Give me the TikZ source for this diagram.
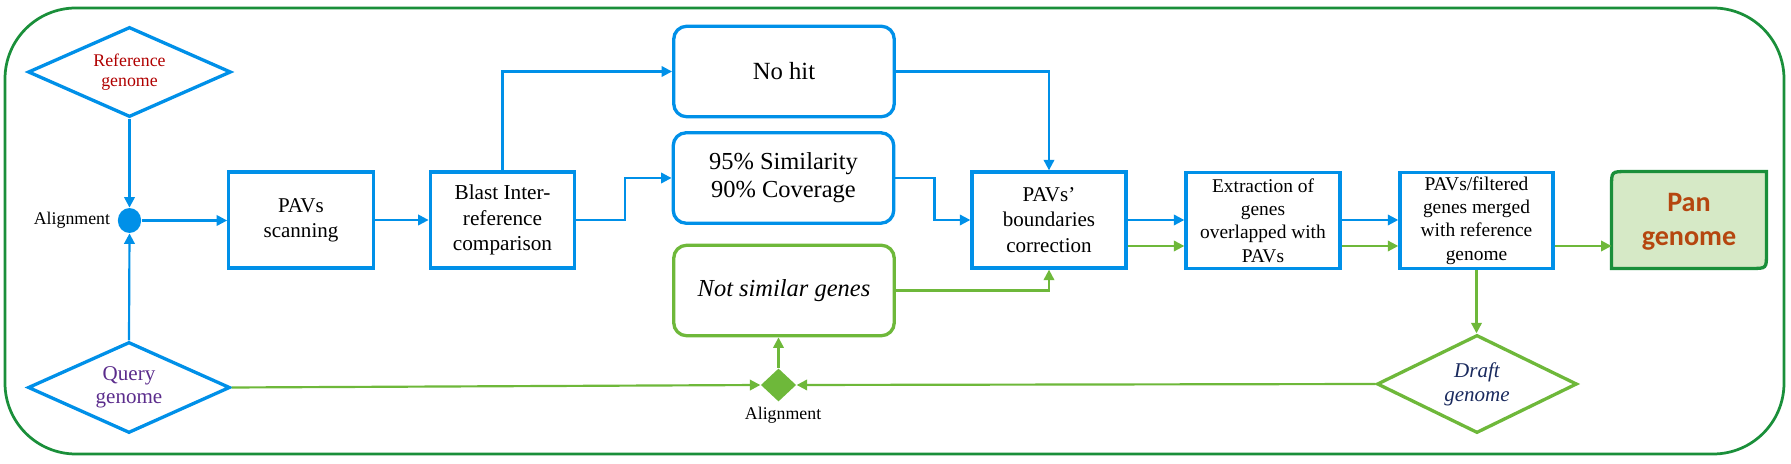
\documentclass[tikz,border=0pt]{standalone}
\usepackage{fontspec}
\setmainfont{Liberation Serif}
\newfontfamily\calib{Carlito}
\usetikzlibrary{arrows.meta,shapes.geometric}
\definecolor{blueC}{RGB}{0,144,232}
\definecolor{lgreen}{RGB}{110,184,58}
\definecolor{dgreen}{RGB}{26,143,58}
\definecolor{refred}{RGB}{176,0,0}
\definecolor{qpurple}{RGB}{91,44,140}
\definecolor{navyC}{RGB}{26,42,94}
\definecolor{panfill}{RGB}{214,233,198}
\definecolor{pantext}{RGB}{181,70,15}
\begin{document}
\begin{tikzpicture}[x=0.4375pt,y=-0.4375pt,
  conn/.style={line width=0.95pt,-{Triangle[length=4.6pt,width=4.6pt]}},
  bl/.style={conn,draw=blueC},
  gr/.style={conn,draw=lgreen},
  sqbox/.style={draw=blueC,line width=1.45pt,rectangle,inner sep=0pt,minimum width=63.2pt,minimum height=42pt,align=center},
  rbox/.style={line width=1.45pt,rectangle,rounded corners=5.7pt,inner sep=0pt,minimum width=96.5pt,minimum height=39.6pt,align=center},
  dia/.style={diamond,shape aspect=2.2,line width=1.45pt,inner sep=0pt,align=center},
  lbl/.style={font=\fontsize{7.8}{9}\selectfont,inner sep=0pt}]
\useasboundingbox (0,0) rectangle (1791,464);
\draw[dgreen,line width=1.2pt,rounded corners=31pt] (5,8) rectangle (1784,454);

\node[dia,draw=blueC,minimum width=88.8pt,minimum height=39.4pt,text=refred,font=\fontsize{7.8}{8.75}\selectfont] (refg) at (129.5,72) {Reference\\genome};
\node[dia,draw=blueC,minimum width=88.4pt,minimum height=39.8pt,text=qpurple,font=\fontsize{9.2}{10}\selectfont] (qry) at (129,387.5) {Query\\genome};
\node[ellipse,fill=blueC,inner sep=0pt,minimum width=10.2pt,minimum height=10.9pt] (dot) at (129.5,220.5) {};
\node[lbl,anchor=east] (dotl) at ([xshift=-3pt]dot.west) {Alignment};

\node[sqbox,font=\fontsize{9.2}{10.9}\selectfont] (scan) at (301,220) {PAVs\\scanning};
\node[sqbox,font=\fontsize{9.3}{11.2}\selectfont] (blast) at (502.5,220) {Blast Inter-\\reference\\comparison};
\node[rbox,draw=blueC,font=\fontsize{10.8}{12}\selectfont] (nohit) at (784,71.5) {No hit};
\node[rbox,draw=blueC,font=\fontsize{10.7}{12.25}\selectfont] (sim) at (783.5,178) {95\% Similarity\\90\% Coverage};
\node[rbox,draw=lgreen,font=\itshape\fontsize{10.7}{12}\selectfont] (notsim) at (784,290.5) {Not similar genes};
\node[sqbox,minimum width=67.4pt,font=\fontsize{9.2}{11.2}\selectfont] (pavb) at (1049,220) {PAVs’\\boundaries\\correction};
\node[sqbox,minimum width=67.4pt,font=\fontsize{8.5}{10.2}\selectfont] (extr) at (1263,220.5) {Extraction of\\genes\\overlapped with\\PAVs};
\node[sqbox,minimum width=67pt,font=\fontsize{8.5}{10.2}\selectfont] (merg) at (1476.5,220.5) {PAVs/filtered\\genes merged\\with reference\\genome};
\node[inner sep=0pt,minimum width=67.4pt,minimum height=42pt] (pan) at (1689,220) {};
\draw[dgreen,fill=panfill,line width=1.45pt] (pan.south west) -- ([yshift=-6.6pt]pan.north west) .. controls (pan.north west) .. ([xshift=6.6pt]pan.north west) -- (pan.north east) -- ([yshift=6.6pt]pan.south east) .. controls (pan.south east) .. ([xshift=-6.6pt]pan.south east) -- cycle;
\node[align=center,inner sep=0pt,text=pantext,font=\calib\bfseries\fontsize{12.3}{14.9}\selectfont] (pant) at (1689,222) {Pan\\genome};

\node[dia,draw=lgreen,minimum width=87.5pt,minimum height=42.9pt,text=navyC,font=\itshape\fontsize{9.2}{10.5}\selectfont] (draft) at (1477,384) {Draft\\genome};
\node[diamond,fill=lgreen,inner sep=0pt,minimum width=15.5pt,minimum height=14.5pt] (aln) at (778.5,385) {};
\node[lbl,anchor=north] (alnl) at ([xshift=2pt,yshift=-2pt]aln.south) {Alignment};

\coordinate (gy) at (0,246);

\draw[bl] (refg.south) -- (dot.north);
\draw[bl] (qry.north) -- (dot.south);
\draw[bl] (dot.east) -- (dot.east -| scan.west);
\draw[bl] (scan.east) -- (blast.west);
\draw[bl] (blast.north) |- (nohit.west);
\draw[bl] (blast.east) -- ++(49,0) |- (sim.west);
\draw[bl] (nohit.east) -| (pavb.north);
\draw[bl] (sim.east) -- ++(39,0) |- (pavb.west);
\draw[gr] (notsim.east) -| (pavb.south);
\draw[bl] (pavb.east) -- (extr.west |- pavb.east);
\draw[gr] (pavb.east |- gy) -- (extr.west |- gy);
\draw[bl] (extr.east |- pavb.east) -- (merg.west |- pavb.east);
\draw[gr] (extr.east |- gy) -- (merg.west |- gy);
\draw[gr] (merg.east |- gy) -- (pan.west |- gy);
\draw[gr] (merg.south) -- (merg.south |- draft.north);
\draw[gr] (draft.west) -- (aln.east);
\draw[gr] (qry.east) -- (aln.west);
\draw[gr] (aln.north) -- (aln.north |- notsim.south);
\end{tikzpicture}
\end{document}
